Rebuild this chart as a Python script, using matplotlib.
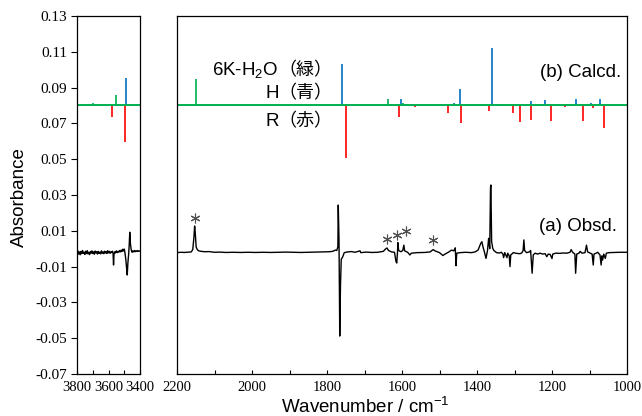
import matplotlib
matplotlib.use('Agg')
import matplotlib.pyplot as plt
from matplotlib.ticker import MultipleLocator

plt.rcParams['mathtext.default'] = 'regular'

GREEN = '#00b050'
BLUE = '#0070c0'
RED = '#ff0000'
BASE = 0.08

# calculated sticks (wavenumber, tip value; baseline 0.08)
green_wn = [3698, 3554, 2149, 1638, 1597, 1590, 1587, 1509, 1423, 1262, 1160, 1123, 1045]
green_val = [0.0814, 0.0859, 0.0948, 0.0836, 0.0812, 0.0808, 0.0810, 0.0805, 0.0804, 0.0808, 0.0806, 0.0806, 0.0804]
blue_wn = [3491, 1759, 1603, 1574, 1461, 1446, 1359, 1331, 1257, 1253, 1219, 1164, 1135, 1095, 1072]
blue_val = [0.0954, 0.1032, 0.0835, 0.0806, 0.0812, 0.0892, 0.1120, 0.0808, 0.0823, 0.0810, 0.0829, 0.0808, 0.0836, 0.0816, 0.0836]
red_wn = [3576, 3497, 1749, 1608, 1566, 1478, 1444, 1369, 1303, 1286, 1256, 1203, 1166, 1118, 1090, 1061]
red_val = [0.0737, 0.0594, 0.0508, 0.0734, 0.0793, 0.0760, 0.0704, 0.0769, 0.0756, 0.0710, 0.0719, 0.0713, 0.0790, 0.0713, 0.0784, 0.0674]

# observed spectrum, 3800-3400 region
obs_hi_wn = [3800, 3795, 3790, 3785, 3780, 3775, 3770, 3765, 3760, 3755, 3750, 3745, 3740, 3735,
             3730, 3725, 3720, 3715, 3710, 3705, 3700, 3695, 3690, 3685, 3680, 3675, 3670, 3665,
             3660, 3655, 3650, 3645, 3640, 3635, 3630, 3625, 3620, 3615, 3610, 3605, 3600, 3595,
             3590, 3585, 3580, 3575, 3571, 3568, 3565, 3560, 3555, 3550, 3545, 3540, 3535, 3530,
             3525, 3520, 3515, 3510, 3505, 3500, 3496, 3490, 3485, 3481, 3477, 3472, 3468, 3465,
             3461, 3456, 3450, 3445, 3440, 3435, 3430, 3425, 3420, 3415, 3410, 3405, 3400]
obs_hi_val = [-0.0025, -0.0012, -0.0030, -0.0018, -0.0034, -0.0015, -0.0028, -0.0010, -0.0026,
              -0.0019, -0.0032, -0.0014, -0.0027, -0.0011, -0.0029, -0.0020, -0.0033, -0.0016,
              -0.0025, -0.0012, -0.0027, -0.0018, -0.0031, -0.0013, -0.0024, -0.0017, -0.0030,
              -0.0015, -0.0026, -0.0019, -0.0029, -0.0012, -0.0025, -0.0018, -0.0028, -0.0014,
              -0.0024, -0.0016, -0.0027, -0.0011, -0.0023, -0.0015, -0.0026, -0.0017, -0.0022,
              -0.0014, -0.0025, -0.0091, -0.0030, -0.0017, -0.0024, -0.0012, -0.0022, -0.0015,
              -0.0020, -0.0010, -0.0018, -0.0008, -0.0016, -0.0003, -0.0012, -0.0002, -0.0020,
              -0.0060, -0.0110, -0.0147, -0.0080, -0.0030, 0.0030, 0.0092, 0.0030, -0.0005,
              -0.0020, -0.0012, -0.0018, -0.0010, -0.0017, -0.0011, -0.0016, -0.0010, -0.0015,
              -0.0012, -0.0014]

# observed spectrum, 2200-1000 region
obs_lo_wn = [2200, 2190, 2180, 2170, 2162, 2158, 2155, 2153, 2151, 2149, 2146, 2142, 2135, 2125,
             2115, 2100, 2085, 2070, 2050, 2030, 2010, 1990, 1970, 1950, 1930, 1910, 1890, 1870,
             1850, 1830, 1810, 1795, 1785, 1778, 1774, 1771, 1770, 1768, 1766, 1764, 1762, 1758,
             1754, 1745, 1735, 1725, 1712, 1710, 1695, 1680, 1665, 1650, 1643, 1640, 1636, 1628,
             1620, 1616, 1614, 1612, 1611, 1609, 1603, 1598, 1595, 1593, 1585, 1579, 1575, 1560,
             1540, 1525, 1517, 1512, 1500, 1491, 1485, 1475, 1468, 1462, 1458, 1456, 1454, 1445,
             1430, 1415, 1405, 1397, 1390, 1387, 1384, 1380, 1376, 1372, 1369, 1366, 1364, 1363,
             1361, 1358, 1355, 1348, 1340, 1335, 1331, 1329, 1326, 1320, 1318, 1314, 1312, 1310,
             1303, 1295, 1285, 1280, 1277, 1275, 1273, 1268, 1260, 1257, 1253, 1250, 1245, 1238,
             1232, 1225, 1218, 1214, 1210, 1205, 1200, 1198, 1190, 1180, 1170, 1160, 1152, 1149,
             1145, 1139, 1137, 1134, 1128, 1125, 1120, 1112, 1108, 1105, 1098, 1093, 1090, 1088,
             1082, 1078, 1072, 1069, 1067, 1065, 1062, 1058, 1055, 1048, 1035, 1020, 1000]
obs_lo_val = [-0.0022, -0.0020, -0.0021, -0.0019, -0.0018, -0.0005, 0.0060, 0.0127, 0.0080,
              0.0010, -0.0005, -0.0012, -0.0015, -0.0017, -0.0016, -0.0020, -0.0019, -0.0021,
              -0.0020, -0.0021, -0.0020, -0.0021, -0.0020, -0.0021, -0.0020, -0.0019, -0.0020,
              -0.0021, -0.0020, -0.0019, -0.0018, -0.0017, -0.0015, -0.0008, -0.0010, 0.0010,
              0.0244, 0.0050, -0.0488, -0.0200, -0.0060, -0.0045, -0.0022, -0.0018, -0.0016,
              -0.0020, -0.0012, -0.0022, -0.0019, -0.0021, -0.0020, -0.0015, 0.0000, 0.0004,
              -0.0010, -0.0018, -0.0020, -0.0072, -0.0080, -0.0020, 0.0034, -0.0010, -0.0017,
              -0.0010, 0.0020, -0.0012, -0.0020, -0.0035, -0.0025, -0.0022, -0.0021, -0.0018,
              -0.0005, -0.0012, -0.0022, -0.0038, -0.0030, -0.0018, -0.0008, -0.0012, 0.0005,
              -0.0095, -0.0025, -0.0022, -0.0020, -0.0022, -0.0018, -0.0007, 0.0030, 0.0039,
              0.0010, -0.0020, -0.0054, -0.0010, 0.0058, 0.0000, 0.0340, 0.0356, 0.0040, 0.0002,
              -0.0010, -0.0022, -0.0024, -0.0020, -0.0030, -0.0050, -0.0022, -0.0050, -0.0025,
              -0.0040, -0.0100, -0.0035, -0.0022, -0.0026, -0.0028, -0.0022, -0.0010, 0.0049,
              -0.0010, -0.0022, -0.0018, -0.0010, -0.0137, -0.0035, -0.0025, -0.0030, -0.0025,
              -0.0030, -0.0028, -0.0045, -0.0030, -0.0032, -0.0055, -0.0030, -0.0025, -0.0026,
              -0.0024, -0.0025, -0.0020, -0.0005, -0.0020, -0.0030, -0.0137, -0.0030, -0.0025,
              -0.0015, -0.0025, -0.0022, 0.0020, -0.0018, -0.0025, -0.0030, -0.0091, -0.0030,
              -0.0025, -0.0020, -0.0035, -0.0091, -0.0040, -0.0063, -0.0030, -0.0054, -0.0025,
              -0.0022, -0.0021, -0.0020, -0.0020]

# asterisks marking impurity bands
star_wn = [2152, 1641, 1613, 1589, 1517]
star_val = [0.0171, 0.0054, 0.0077, 0.0100, 0.0049]

y_ticks = [0.13, 0.11, 0.09, 0.07, 0.05, 0.03, 0.01, -0.01, -0.03, -0.05, -0.07]
y_ticklabels = ['0.13', '0.11', '0.09', '0.07', '0.05', '0.03', '0.01', '-0.01', '-0.03', '-0.05', '-0.07']

# label rows in the calculated part: (y value, latin part, japanese part)
calc_rows = [(0.0998, '6K-H$_2$O', '（緑）'), (0.0868, 'H', '（青）'), (0.0710, 'R', '（赤）')]

sans = 'Liberation Sans'
serif = 'Liberation Serif'


def draw_panel(ax, xmax, xmin, obs_wn, obs_val):
    """draw sticks, baseline and observed trace on one panel"""
    for wn, val, col in [(green_wn, green_val, GREEN), (blue_wn, blue_val, BLUE), (red_wn, red_val, RED)]:
        pts = [(w, v) for w, v in zip(wn, val) if xmin <= w <= xmax]
        if pts:
            ax.vlines([p[0] for p in pts], BASE, [p[1] for p in pts], color=col, lw=1.2)
    ax.axhline(BASE, color=GREEN, lw=1.4)
    ax.plot(obs_wn, obs_val, color='black', lw=1.0)
    ax.set_xlim(xmax, xmin)
    ax.set_ylim(-0.07, 0.13)
    ax.xaxis.set_major_locator(MultipleLocator(200))
    ax.xaxis.set_minor_locator(MultipleLocator(100))
    ax.tick_params(axis='x', which='both', direction='in', length=3, width=0.8,
                   top=False, labelsize=10.5, pad=5)
    for sp in ax.spines.values():
        sp.set_linewidth(0.9)


fig = plt.figure(figsize=(6.42, 4.16), dpi=100)
ax1 = fig.add_axes([77 / 642, 1 - 374 / 416, 63 / 642, 358 / 416])
ax2 = fig.add_axes([177 / 642, 1 - 374 / 416, 450 / 642, 358 / 416])

draw_panel(ax1, 3800, 3400, obs_hi_wn, obs_hi_val)
draw_panel(ax2, 2200, 1000, obs_lo_wn, obs_lo_val)

ax1.set_yticks(y_ticks)
ax1.set_yticklabels(y_ticklabels)
ax1.tick_params(axis='y', direction='out', length=4, width=0.8, labelsize=11, pad=3)
ax2.set_yticks([])
for ax in (ax1, ax2):
    for lab in ax.get_xticklabels() + ax.get_yticklabels():
        lab.set_fontfamily(serif)

ax2.plot(star_wn, star_val, ls='none', marker=(6, 2, 0), ms=7, mew=0.8, color='#505050')

lx = 0.226
for y, latin, cjk in calc_rows:
    yf = (y + 0.07) / 0.2
    ax2.text(lx, yf, latin, transform=ax2.transAxes, ha='right', va='center', family=sans, size=13.5)
    ax2.text(lx, yf, cjk, transform=ax2.transAxes, ha='left', va='center',
             family='Noto Sans CJK JP', size=13)

ax2.text(0.988, (0.0987 + 0.07) / 0.2, '(b) Calcd.', transform=ax2.transAxes,
         ha='right', va='center', family=sans, size=13.5)
ax2.text(0.977, (0.0123 + 0.07) / 0.2, '(a) Obsd.', transform=ax2.transAxes,
         ha='right', va='center', family=sans, size=13.5)

fig.text(19 / 642, 1 - 197 / 416, 'Absorbance', rotation=90, ha='center', va='center',
         family=sans, size=13.5)
fig.text(281 / 642, 1 - 407 / 416, 'Wavenumber / cm$^{-1}$', ha='left', va='center',
         family=sans, size=13.5)

fig.savefig('out.png', dpi=100)
